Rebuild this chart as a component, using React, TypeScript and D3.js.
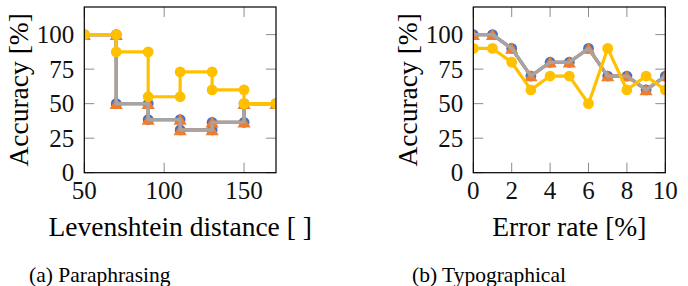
import React from "react";
import * as d3 from "d3";

// ---- Data: (a) Paraphrasing (step bins) ----
const levEdges = [50, 70, 90, 110, 130, 150, 170];
const paraBlue = [100, 50, 38.5, 31, 36.5, 50];
const paraOrange = [100, 50, 38.5, 31, 36.5, 50];
const paraGray = [100, 50, 38.5, 31, 36.5, 50];
const paraYellow = [100, 87.5, 55, 73, 60, 50];
const levTicks = [50, 100, 150];

// ---- Data: (b) Typographical ----
const errRates = [0, 1, 2, 3, 4, 5, 6, 7, 8, 9, 10];
const typoBlue = [100, 100, 90, 70, 80, 80, 90, 70, 70, 60, 70];
const typoOrange = [100, 100, 90, 70, 80, 80, 90, 70, 70, 60, 70];
const typoGray = [100, 100, 90, 70, 80, 80, 90, 70, 70, 60, 70];
const typoYellow = [90, 90, 80, 60, 70, 70, 50, 90, 60, 70, 60];
const errTicks = [0, 2, 4, 6, 8, 10];

const accTicks = [0, 25, 50, 75, 100];

const C_BLUE = "#4472C4";
const C_ORANGE = "#ED7D31";
const C_GRAY = "#A5A5A5";
const C_YELLOW = "#FFC000";

const FONT = '"Liberation Serif", "DejaVu Serif", "Times New Roman", Times, serif';

type Pt = [number, number];

function stepPoints(edges: number[], vals: number[]): Pt[] {
  const pts: Pt[] = [];
  vals.forEach((v, i) => {
    pts.push([edges[i], v]);
    pts.push([edges[i + 1], v]);
  });
  return pts;
}

function linePoints(xs: number[], vals: number[]): Pt[] {
  return xs.map((x, i) => [x, vals[i]] as Pt);
}

interface PanelProps {
  id: string;
  x0: number;
  x1: number;
  xDomain: [number, number];
  xTicks: number[];
  xLabel: string;
  caption: string;
  captionX: number;
  series: { pts: Pt[]; color: string; marker: "circle" | "triangle" | "none" }[];
}

const Y_TOP = 7;
const Y_BOT = 172.7;

function Panel(p: PanelProps) {
  const x = d3.scaleLinear().domain(p.xDomain).range([p.x0, p.x1]);
  const y = d3.scaleLinear().domain([0, 120]).range([Y_BOT, Y_TOP]);
  const line = d3
    .line<Pt>()
    .x((d) => x(d[0]))
    .y((d) => y(d[1]));
  const tri = d3.symbol().type(d3.symbolTriangle).size(75)();
  const tickLen = 10;
  const cx = (p.x0 + p.x1) / 2;
  const clipId = `clip-${p.id}`;
  const txt = { fontFamily: FONT };
  return (
    <g>
      <defs>
        <clipPath id={clipId}>
          <rect x={p.x0} y={Y_TOP} width={p.x1 - p.x0} height={Y_BOT - Y_TOP} />
        </clipPath>
      </defs>
      {/* ticks (inside, gray) */}
      <g stroke="#8c8c8c" strokeWidth={1}>
        {p.xTicks.map((t) => (
          <g key={`xt${t}`}>
            <line x1={x(t)} x2={x(t)} y1={Y_BOT} y2={Y_BOT - tickLen} />
            <line x1={x(t)} x2={x(t)} y1={Y_TOP} y2={Y_TOP + tickLen} />
          </g>
        ))}
        {accTicks.map((t) => (
          <g key={`yt${t}`}>
            <line x1={p.x0} x2={p.x0 + tickLen} y1={y(t)} y2={y(t)} />
            <line x1={p.x1} x2={p.x1 - tickLen} y1={y(t)} y2={y(t)} />
          </g>
        ))}
      </g>
      {/* series */}
      <g clipPath={`url(#${clipId})`}>
        {p.series.map((s, si) => (
          <g key={si}>
            <path
              d={line(s.pts) || ""}
              fill="none"
              stroke={s.color}
              strokeWidth={3.2}
              strokeLinejoin="round"
            />
            {s.marker === "circle" &&
              s.pts.map((d, i) => (
                <circle key={i} cx={x(d[0])} cy={y(d[1])} r={5.4} fill={s.color} />
              ))}
            {s.marker === "triangle" &&
              s.pts.map((d, i) => (
                <path
                  key={i}
                  d={tri || ""}
                  transform={`translate(${x(d[0])},${y(d[1]) + 1.5})`}
                  fill={s.color}
                />
              ))}
          </g>
        ))}
      </g>
      {/* box */}
      <rect
        x={p.x0}
        y={Y_TOP}
        width={p.x1 - p.x0}
        height={Y_BOT - Y_TOP}
        fill="none"
        stroke="#000"
        strokeWidth={1.2}
      />
      {/* tick labels */}
      <g style={txt} fontSize={25} fill="#111">
        {accTicks.map((t) => (
          <text key={`yl${t}`} x={p.x0 - 10} y={y(t)} dy="0.35em" textAnchor="end">
            {t}
          </text>
        ))}
        {p.xTicks.map((t) => (
          <text key={`xl${t}`} x={x(t)} y={199} textAnchor="middle">
            {t}
          </text>
        ))}
      </g>
      {/* axis labels */}
      <text
        style={txt}
        fontSize={27.5}
        textAnchor="middle"
        transform={`translate(${p.x0 - 56},${(Y_TOP + Y_BOT) / 2}) rotate(-90)`}
      >
        Accuracy [%]
      </text>
      <text style={txt} fontSize={27.5} textAnchor="middle" x={cx} y={236}>
        {p.xLabel}
      </text>
      <text style={txt} fontSize={21.5} x={p.captionX} y={282}>
        {p.caption}
      </text>
    </g>
  );
}

export default function App() {
  return (
    <svg
      width={688}
      height={286}
      style={{ position: "absolute", left: 0, top: 0, background: "#fff" }}
    >
      <rect width={688} height={286} fill="#fff" />
      <Panel
        id="a"
        x0={84.3}
        x1={276}
        xDomain={[50, 170]}
        xTicks={levTicks}
        xLabel="Levenshtein distance [ ]"
        caption="(a) Paraphrasing"
        captionX={29}
        series={[
          { pts: stepPoints(levEdges, paraBlue), color: C_BLUE, marker: "circle" },
          { pts: stepPoints(levEdges, paraOrange), color: C_ORANGE, marker: "triangle" },
          { pts: stepPoints(levEdges, paraGray), color: C_GRAY, marker: "none" },
          { pts: stepPoints(levEdges, paraYellow), color: C_YELLOW, marker: "circle" },
        ]}
      />
      <Panel
        id="b"
        x0={473.3}
        x1={665.3}
        xDomain={[0, 10]}
        xTicks={errTicks}
        xLabel="Error rate [%]"
        caption="(b) Typographical"
        captionX={412}
        series={[
          { pts: linePoints(errRates, typoBlue), color: C_BLUE, marker: "circle" },
          { pts: linePoints(errRates, typoOrange), color: C_ORANGE, marker: "triangle" },
          { pts: linePoints(errRates, typoGray), color: C_GRAY, marker: "none" },
          { pts: linePoints(errRates, typoYellow), color: C_YELLOW, marker: "circle" },
        ]}
      />
    </svg>
  );
}
